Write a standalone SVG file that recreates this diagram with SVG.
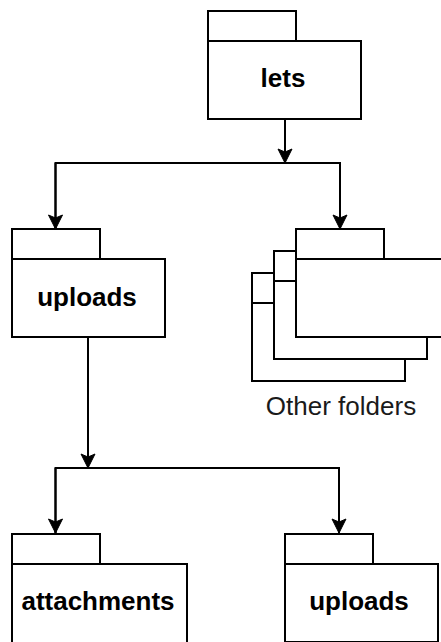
<svg xmlns="http://www.w3.org/2000/svg" width="441" height="642" viewBox="0 0 441 642">
  <style>
    .box { fill: #ffffff; stroke: #000000; stroke-width: 2; }
    .wire { fill: none; stroke: #000000; stroke-width: 2; }
    .name { font-family: "Liberation Sans", Arial, sans-serif; font-weight: bold; font-size: 26px; fill: #000000; text-anchor: middle; }
    .caption { font-family: "Liberation Sans", Arial, sans-serif; font-size: 26px; fill: #1a1a1a; text-anchor: middle; }
  </style>
  <defs>
    <marker id="arrow" viewBox="0 0 16 16" refX="15" refY="8" markerWidth="16" markerHeight="16" markerUnits="userSpaceOnUse" orient="auto">
      <path d="M1,1 L15,8 L1,15 L4,8 Z" fill="#000000" stroke="#000000" stroke-width="1"/>
    </marker>
    <!-- folder outline: tab on top of a wider body -->
    <g id="folder">
      <rect class="box" x="0" y="0" width="88" height="30"/>
      <rect class="box" x="0" y="30" width="153" height="78"/>
    </g>
  </defs>

  <g id="connectors">
    <path class="wire" d="M285,119 V163" marker-end="url(#arrow)"/>
    <path class="wire" d="M55.5,229 V163 H340 V229" />
    <path class="wire" d="M55.5,163 V229" marker-end="url(#arrow)"/>
    <path class="wire" d="M340,163 V229" marker-end="url(#arrow)"/>
    <path class="wire" d="M88,337 V468" marker-end="url(#arrow)"/>
    <path class="wire" d="M55.5,533 V468 H339 V533" />
    <path class="wire" d="M55.5,468 V533" marker-end="url(#arrow)"/>
    <path class="wire" d="M339,468 V533" marker-end="url(#arrow)"/>
  </g>

  <g id="node-lets">
    <use href="#folder" x="208" y="11"/>
    <text class="name" x="283" y="87">lets</text>
  </g>

  <g id="node-uploads">
    <use href="#folder" x="12" y="229"/>
    <text class="name" x="87" y="306">uploads</text>
  </g>

  <g id="node-other-folders">
    <use href="#folder" x="252" y="273"/>
    <use href="#folder" x="274" y="251"/>
    <use href="#folder" x="296" y="229"/>
    <text class="caption" x="341" y="415">Other folders</text>
  </g>

  <g id="node-attachments">
    <rect class="box" x="12" y="534" width="88" height="30"/>
    <rect class="box" x="12" y="564" width="175" height="80"/>
    <text class="name" x="98" y="610">attachments</text>
  </g>

  <g id="node-uploads-child">
    <use href="#folder" x="285" y="534"/>
    <text class="name" x="359" y="610">uploads</text>
  </g>
</svg>
